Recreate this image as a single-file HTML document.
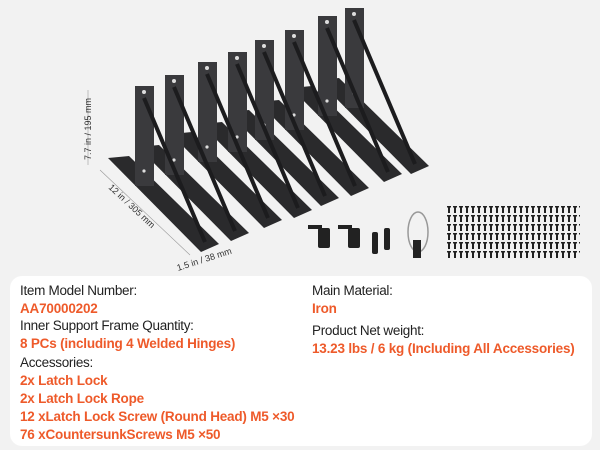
<!DOCTYPE html>
<html><head><style>
body{margin:0;width:600px;height:450px;background:#f2f2f2;position:relative;overflow:hidden;font-family:"Liberation Sans",sans-serif}
.card{position:absolute;left:10px;top:276px;width:582px;height:170px;background:#fff;border-radius:12px}
.t{position:absolute;font-size:13.5px;color:#222;white-space:nowrap;letter-spacing:-0.3px}
.o{color:#ee5a2a;font-weight:bold;letter-spacing:-0.2px}
</style></head><body>
<svg width="600" height="276" style="position:absolute;left:0;top:0">
<defs>
<pattern id="sc" x="446" y="206" width="6" height="9" patternUnits="userSpaceOnUse">
<rect x="2" y="0" width="2" height="7" fill="#222"/><rect x="1" y="0" width="4" height="1.5" fill="#222"/>
</pattern>
</defs>
<g fill="#2a2a2c">
<polygon points="318,80 339,78 429,166 411,174"/><rect x="345" y="8" width="19" height="100" fill="#3a3a3d"/>
<circle cx="354" cy="14" r="2" fill="#ddd"/><circle cx="354" cy="93" r="1.6" fill="#ddd"/>
<line x1="354" y1="20" x2="415" y2="164" stroke="#1c1c1e" stroke-width="4"/>
<polygon points="291,88 312,86 402,174 384,182"/><rect x="318" y="16" width="19" height="100" fill="#3a3a3d"/>
<circle cx="327" cy="22" r="2" fill="#ddd"/><circle cx="327" cy="101" r="1.6" fill="#ddd"/>
<line x1="327" y1="28" x2="388" y2="172" stroke="#1c1c1e" stroke-width="4"/>
<polygon points="258,102 279,100 369,188 351,196"/><rect x="285" y="30" width="19" height="100" fill="#3a3a3d"/>
<circle cx="294" cy="36" r="2" fill="#ddd"/><circle cx="294" cy="115" r="1.6" fill="#ddd"/>
<line x1="294" y1="42" x2="355" y2="186" stroke="#1c1c1e" stroke-width="4"/>
<polygon points="228,112 249,110 339,198 321,206"/><rect x="255" y="40" width="19" height="100" fill="#3a3a3d"/>
<circle cx="264" cy="46" r="2" fill="#ddd"/><circle cx="264" cy="125" r="1.6" fill="#ddd"/>
<line x1="264" y1="52" x2="325" y2="196" stroke="#1c1c1e" stroke-width="4"/>
<polygon points="201,124 222,122 312,210 294,218"/><rect x="228" y="52" width="19" height="100" fill="#3a3a3d"/>
<circle cx="237" cy="58" r="2" fill="#ddd"/><circle cx="237" cy="137" r="1.6" fill="#ddd"/>
<line x1="237" y1="64" x2="298" y2="208" stroke="#1c1c1e" stroke-width="4"/>
<polygon points="171,134 192,132 282,220 264,228"/><rect x="198" y="62" width="19" height="100" fill="#3a3a3d"/>
<circle cx="207" cy="68" r="2" fill="#ddd"/><circle cx="207" cy="147" r="1.6" fill="#ddd"/>
<line x1="207" y1="74" x2="268" y2="218" stroke="#1c1c1e" stroke-width="4"/>
<polygon points="138,147 159,145 249,233 231,241"/><rect x="165" y="75" width="19" height="100" fill="#3a3a3d"/>
<circle cx="174" cy="81" r="2" fill="#ddd"/><circle cx="174" cy="160" r="1.6" fill="#ddd"/>
<line x1="174" y1="87" x2="235" y2="231" stroke="#1c1c1e" stroke-width="4"/>
<polygon points="108,158 129,156 219,244 201,252"/><rect x="135" y="86" width="19" height="100" fill="#3a3a3d"/>
<circle cx="144" cy="92" r="2" fill="#ddd"/><circle cx="144" cy="171" r="1.6" fill="#ddd"/>
<line x1="144" y1="98" x2="205" y2="242" stroke="#1c1c1e" stroke-width="4"/>
</g>
<line x1="88" y1="90" x2="88" y2="165" stroke="#999" stroke-width="0.6"/>
<text font-size="9" fill="#333" transform="translate(91,160) rotate(-90)">7.7 in / 195 mm</text>
<line x1="100" y1="170" x2="190" y2="255" stroke="#999" stroke-width="0.6"/>
<text font-size="9" fill="#333" transform="translate(108,188) rotate(43)">12 in / 305 mm</text>
<text font-size="9" fill="#333" transform="translate(178,271) rotate(-18)">1.5 in / 38 mm</text>
<g fill="#222">
<rect x="318" y="228" width="12" height="20" rx="2"/><rect x="308" y="225" width="14" height="4"/>
<rect x="348" y="228" width="12" height="20" rx="2"/><rect x="338" y="225" width="14" height="4"/>
<rect x="372" y="232" width="6" height="22" rx="2"/><rect x="384" y="228" width="6" height="22" rx="2"/>
</g>
<ellipse cx="418" cy="232" rx="10" ry="20" fill="none" stroke="#999" stroke-width="1.5"/>
<rect x="413" y="240" width="8" height="18" fill="#222"/>
<rect x="446" y="206" width="134" height="54" fill="url(#sc)"/>
</svg>
<div class="card"></div>
<div class="t" style="left:20px;top:283px">Item Model Number:</div>
<div class="t o" style="left:20px;top:301px">AA70000202</div>
<div class="t" style="left:20px;top:318px">Inner Support Frame Quantity:</div>
<div class="t o" style="left:20px;top:336px">8 PCs (including 4 Welded Hinges)</div>
<div class="t" style="left:20px;top:355px">Accessories:</div>
<div class="t o" style="left:20px;top:373px">2x Latch Lock</div>
<div class="t o" style="left:20px;top:391px">2x Latch Lock Rope</div>
<div class="t o" style="left:20px;top:409px">12 xLatch Lock Screw (Round Head) M5 ×30</div>
<div class="t o" style="left:20px;top:427px">76 xCountersunkScrews M5 ×50</div>
<div class="t" style="left:312px;top:283px">Main Material:</div>
<div class="t o" style="left:312px;top:301px">Iron</div>
<div class="t" style="left:312px;top:323px">Product Net weight:</div>
<div class="t o" style="left:312px;top:341px">13.23 lbs / 6 kg (Including All Accessories)</div>
</body></html>
